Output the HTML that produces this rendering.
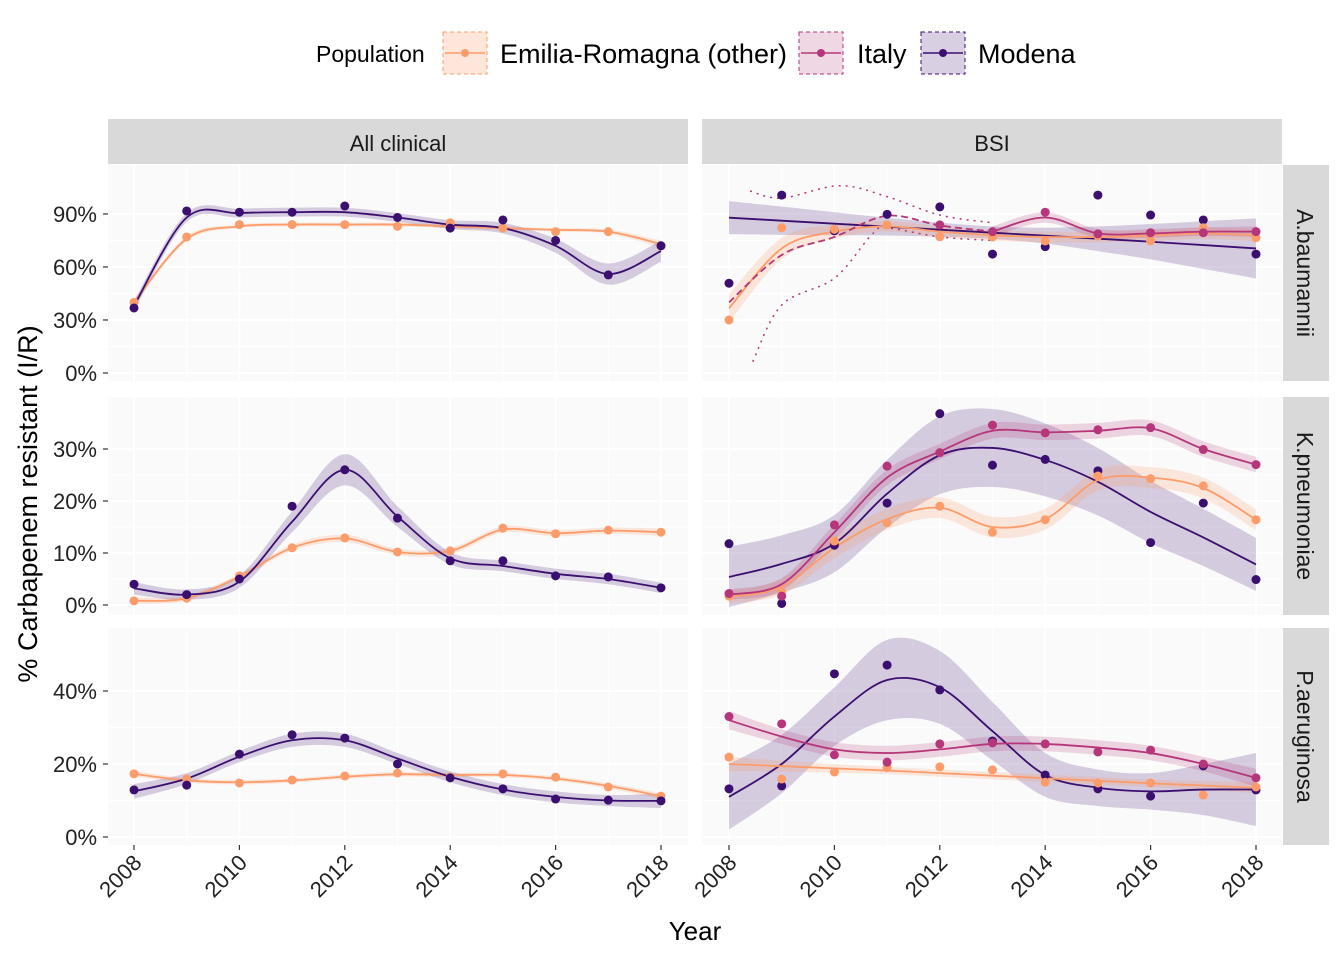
<!DOCTYPE html>
<html><head><meta charset="utf-8"><style>
body{margin:0;background:#fff;}
svg{display:block;font-family:"Liberation Sans",Arial,sans-serif;}
</style></head><body>
<svg id="chart" width="1344" height="960" viewBox="0 0 1344 960" xmlns="http://www.w3.org/2000/svg">
<g id="legend">
 <text x="316" y="62" font-size="23" fill="#000">Population</text>
 <g>
  <rect x="443" y="32" width="44" height="42" fill="rgba(252,156,106,0.25)" stroke="#FC9C6A" stroke-dasharray="4,3"/>
  <line x1="445" y1="53" x2="485" y2="53" stroke="#FC9C6A" stroke-width="1.5"/><circle cx="465" cy="53" r="4" fill="#FC9C6A"/>
  <text x="500" y="63" font-size="27" textLength="287" lengthAdjust="spacingAndGlyphs">Emilia-Romagna (other)</text></g>
 <g>
  <rect x="799" y="32" width="44" height="42" fill="rgba(181,54,122,0.2)" stroke="#B5367A" stroke-dasharray="4,3"/>
  <line x1="801" y1="53" x2="841" y2="53" stroke="#B5367A" stroke-width="1.5"/><circle cx="821" cy="53" r="4" fill="#B5367A"/>
  <text x="857" y="63" font-size="27">Italy</text></g>
 <g>
  <rect x="921" y="32" width="44" height="42" fill="rgba(59,15,112,0.2)" stroke="#3B0F70" stroke-dasharray="4,3"/>
  <line x1="923" y1="53" x2="963" y2="53" stroke="#3B0F70" stroke-width="1.5"/><circle cx="943" cy="53" r="4" fill="#3B0F70"/>
  <text x="978" y="63" font-size="27">Modena</text></g>
</g>
<text transform="translate(37,504) rotate(-90)" text-anchor="middle" font-size="27">% Carbapenem resistant (I/R)</text>
<text x="695" y="940" text-anchor="middle" font-size="26">Year</text>
<g id="plots"></g>
</svg>
<script>
const years=[2008,2009,2010,2011,2012,2013,2014,2015,2016,2017,2018];
const xTickLabels=["2008","2010","2012","2014","2016","2018"];
const row1Ticks=[0,30,60,90], row2Ticks=[0,10,20,30], row3Ticks=[0,20,40];
// A.baumannii - All clinical
const abAllModPts=[36.8,91.7,91,91,94.5,88,82,86.6,75,55.5,72];
const abAllModFit=[38,88,90.5,91,91,88,84,82,72,56,69];
const abAllModHw=[3,2.5,2.5,2.5,2.5,2.5,2.5,3,4,6,6];
const abAllErPts=[40,77,84,84,84,83,85,82,80,80,72];
const abAllErFit=[40,76,83,84,84,84,83,82,81,80,73];
const abAllErHw=[1.5,1.5,1,1,1,1,1,1,1,1.2,2];
// A.baumannii - BSI
const abBsiModPts=[50.8,100.7,80.5,89.8,94,67.3,71.5,100.7,89.4,86.6,67.3];
const abBsiModFit=[87.9,86.2,84.5,82.8,81.1,79.4,77.7,76,74.3,72.4,70.5];
const abBsiModHw=[9.4,8,6.5,5,4,3.5,4.5,7,10,13.5,17];
const abBsiErPts=[30,82.2,81.3,83.8,77.1,77,74.7,77.5,74.7,82.2,76.6];
const abBsiErFit=[36.6,70.5,80,83,80,78,77,77,77.7,79,78];
const abBsiErHw=[8,6,4,3,3,3,3,3,3,3,3.5];
const abBsiItPts=[null,null,null,null,83.8,80,91,78.7,79.4,79.4,80];
const abBsiItFit=[40,66.8,77,89,83.5,80,88,79,79,80,80];
const abBsiItHw=[3,3,3,3,3,3,3,2.5,2.5,2.5,3];
const abBsiItUpX=[2008.4,2009,2010.1,2011,2012,2013], abBsiItUpY=[103,99,106,99.8,89.4,85];
const abBsiItLoX=[2008.45,2009,2010,2010.7,2011,2012,2013], abBsiItLoY=[6.4,38.5,53.6,78,82,77,75];
// K.pneumoniae
const kpAllModPts=[4,2,5,19,26,16.7,8.5,8.5,5.6,5.4,3.3];
const kpAllModFit=[3.2,2,4.5,16,26,17,9,7.5,6,5,3.3];
const kpAllModHw=[1.2,1,1.2,2,3,2,1.2,1,1,1,1];
const kpAllErPts=[0.8,1.3,5.6,11,12.9,10.2,10.4,14.8,13.7,14.4,14];
const kpAllErFit=[0.8,1.3,5.5,11,12.8,10.2,10.4,14.5,13.8,14.3,14];
const kpAllErHw=[0.6,0.5,0.5,0.6,0.7,0.6,0.6,0.6,0.6,0.6,0.7];
const kpBsiModPts=[11.8,0.3,11.5,19.6,36.8,26.9,28,25.8,12,19.6,4.9];
const kpBsiModFit=[5.4,7.9,11.8,21.4,28.8,30.2,27.9,23.7,17.9,13,7.8];
const kpBsiModHw=[5.8,5.5,5.5,6.5,7.5,7.5,7,6.5,6,5.5,5.1];
const kpBsiItPts=[2.2,1.7,15.4,26.7,29.3,34.6,33.1,33.7,34.1,29.9,27];
const kpBsiItFit=[2,4,14,24.5,29.5,33.5,33.2,33.5,34,30,27];
const kpBsiItHw=[1,1.2,1.5,1.5,1.5,1.5,1.5,1.5,1.5,1.5,1.5];
const kpBsiErPts=[1.7,2.5,12.3,15.8,19,14,16.4,24.8,24.3,22.9,16.4];
const kpBsiErFit=[1.5,3.5,11,16.5,18.7,15,16.5,24,24.5,22.5,16.4];
const kpBsiErHw=[1.2,1.5,2,2,2,2,2,2,2,2,2];
// P.aeruginosa
const paAllModPts=[12.9,14.2,22.7,28,27.1,20,16.2,13.2,10.4,10.1,9.9];
const paAllModFit=[12.5,16,22,26.5,26.5,21.5,16.5,13,11,10,9.9];
const paAllModHw=[2,1.5,1.5,1.8,1.8,1.5,1.5,1.5,1.5,1.5,2];
const paAllErPts=[17.3,15.9,14.8,15.6,16.7,17.5,16.4,17.3,16.4,13.7,11.2];
const paAllErFit=[17.3,15.5,15,15.5,16.5,17.2,17,17,16,14,11.2];
const paAllErHw=[0.8,0.6,0.6,0.6,0.6,0.6,0.6,0.6,0.6,0.7,0.8];
const paBsiModPts=[13.2,14,44.7,47.1,40.3,26.3,17,13.2,11.2,19.5,12.9];
const paBsiModFit=[11,20,33,43,41,29,17,13.5,12.5,13,13];
const paBsiModHw=[9,8,8,11,10,8,6,5,5,7,10];
const paBsiItPts=[33,31,22.5,20.5,25.5,25.8,25.5,23.3,23.8,20,16.2];
const paBsiItFit=[32,27.5,24,23,24,25.5,25.5,24.5,23,20,16.2];
const paBsiItHw=[2.5,2,2,2,2,2,2,2,2,2,2.5];
const paBsiErPts=[21.9,15.9,17.8,19,19.2,18.4,15,14.8,14.8,11.5,13.7];
const paBsiErFit=[20,19.4,18.8,18.2,17.5,16.8,16.1,15.4,14.7,14.1,13.5];
const paBsiErHw=[2,1.5,1.2,1,1,1,1,1,1,1.2,1.5];

const COL={er:"#FC9C6A",it:"#B5367A",mod:"#3B0F70"};
const FILL={er:"rgba(252,156,106,0.22)",it:"rgba(181,54,122,0.2)",mod:"rgba(59,15,112,0.2)"};
const NS="http://www.w3.org/2000/svg";
const root=document.getElementById('plots');
function mk(tag,attrs,parent){const e=document.createElementNS(NS,tag);for(const k in attrs)e.setAttribute(k,attrs[k]);(parent||root).appendChild(e);return e;}
const cols=[{x0:108,x1:688,base:134},{x0:702,x1:1282,base:729}];
const rows=[{y0:165,y1:381,zero:373,k:1.767,ticks:row1Ticks,name:"A.baumannii"},
            {y0:397,y1:615,zero:605,k:5.2,ticks:row2Ticks,name:"K.pneumoniae"},
            {y0:628,y1:845,zero:837,k:3.65,ticks:row3Ticks,name:"P.aeruginosa"}];
const XK=52.7;
function path(pts){
  let d="M"+pts[0][0]+","+pts[0][1];
  for(let i=0;i<pts.length-1;i++){
    const p0=pts[Math.max(0,i-1)],p1=pts[i],p2=pts[i+1],p3=pts[Math.min(pts.length-1,i+2)];
    const c1=[p1[0]+(p2[0]-p0[0])/6,p1[1]+(p2[1]-p0[1])/6],c2=[p2[0]-(p3[0]-p1[0])/6,p2[1]-(p3[1]-p1[1])/6];
    d+=" C"+c1+" "+c2+" "+p2;
  }
  return d;
}
function panel(ri,ci,series,extra){
  const r=rows[ri],c=cols[ci];
  const sx=y=>c.base+(y-2008)*XK, sy=v=>r.zero-v*r.k;
  const g=mk('g',{});
  
  
  const cid='clip'+ri+ci;
  const cp=mk('clipPath',{id:cid},g);mk('rect',{x:c.x0,y:r.y0,width:c.x1-c.x0,height:r.y1-r.y0},cp);
  const bg=mk('rect',{x:c.x0,y:r.y0,width:c.x1-c.x0,height:r.y1-r.y0,fill:"#FAFAFA"},g);
  
  for(let i=0;i<r.ticks.length;i++){
    mk('line',{x1:c.x0,x2:c.x1,y1:sy(r.ticks[i]),y2:sy(r.ticks[i]),stroke:"#fff","stroke-width":2},g);
    if(i<r.ticks.length-1){const m=(r.ticks[i]+r.ticks[i+1])/2;mk('line',{x1:c.x0,x2:c.x1,y1:sy(m),y2:sy(m),stroke:"#fff","stroke-width":1},g);}
  }
  years.forEach((y,i)=>mk('line',{x1:sx(y),x2:sx(y),y1:r.y0,y2:r.y1,stroke:"#fff","stroke-width":i%2?1:2},g));
  const pg=mk('g',{'clip-path':'url(#'+cid+')'},g);
  series.forEach(s=>{
    const from=s.from||0, idx=years.map((y,i)=>i).filter(i=>i>=from);
    const up=idx.map(i=>[sx(years[i]),sy(s.fit[i]+s.hw[i])]), lo=idx.map(i=>[sx(years[i]),sy(s.fit[i]-s.hw[i])]).reverse();
    const rb=mk('path',{d:path(up)+" L"+lo[0]+path(lo).slice(1).replace(/^[^C]*/,'')+"Z",fill:FILL[s.k]},pg);
    
  });
  if(extra)extra(pg,sx,sy);
  series.forEach(s=>{
    const pts=years.map((y,i)=>[sx(y),sy(s.fit[i])]);
    if(s.dashTo!==undefined){
      const a=mk('path',{d:path(pts.slice(0,s.dashTo+1)),fill:"none",stroke:COL[s.k],"stroke-width":1.8,"stroke-dasharray":"7,4"},pg);
      
      const b=mk('path',{d:path(pts.slice(s.dashTo)),fill:"none",stroke:COL[s.k],"stroke-width":1.8},pg);
      
    } else {
      const l=mk('path',{d:path(pts),fill:"none",stroke:COL[s.k],"stroke-width":1.8},pg);
      
    }
  });
  series.forEach(s=>{
    s.pts.forEach((v,i)=>{if(v===null)return;
      const p=mk('circle',{cx:sx(years[i]),cy:sy(v),r:4.5,fill:COL[s.k]},pg);
      });
  });
  if(ci===0){
    r.ticks.forEach(t=>{
      mk('line',{x1:c.x0-5,x2:c.x0,y1:sy(t),y2:sy(t),stroke:"#333","stroke-width":1.2});
      const tl=mk('text',{x:c.x0-11,y:sy(t)+8,"text-anchor":"end","font-size":22,fill:"#222"});
      tl.textContent=t+"%";
    });
  }
  if(ri===2){
    xTickLabels.forEach(lb=>{
      const x=sx(+lb);
      mk('line',{x1:x,x2:x,y1:r.y1,y2:r.y1+5,stroke:"#333","stroke-width":1.2});
      const tl=mk('text',{transform:"translate("+(x+9)+","+(r.y1+19)+") rotate(-45)","text-anchor":"end","font-size":22,fill:"#222"});
      tl.textContent=lb;
    });
  }
  if(ri===0){
    const st=mk('rect',{x:c.x0,y:119,width:c.x1-c.x0,height:45,fill:"#D9D9D9"});
    
    const tx=mk('text',{x:(c.x0+c.x1)/2,y:151,"text-anchor":"middle","font-size":22,fill:"#1A1A1A"});
    tx.textContent=ci?"BSI":"All clinical";
  }
  if(ci===1){
    const st=mk('rect',{x:1283,y:r.y0,width:46,height:r.y1-r.y0,fill:"#D9D9D9"});
    
    const tx=mk('text',{transform:"translate(1297,"+((r.y0+r.y1)/2)+") rotate(90)","text-anchor":"middle","font-size":23,fill:"#1A1A1A"});
    tx.textContent=r.name;
  }
}
panel(0,0,[{k:'er',pts:abAllErPts,fit:abAllErFit,hw:abAllErHw},{k:'mod',pts:abAllModPts,fit:abAllModFit,hw:abAllModHw}]);
panel(0,1,[{k:'mod',pts:abBsiModPts,fit:abBsiModFit,hw:abBsiModHw},{k:'er',pts:abBsiErPts,fit:abBsiErFit,hw:abBsiErHw},{k:'it',pts:abBsiItPts,fit:abBsiItFit,hw:abBsiItHw,from:5,dashTo:5}],
 (pg,sx,sy)=>{
  const u=abBsiItUpX.map((x,i)=>[sx(x),sy(abBsiItUpY[i])]), l=abBsiItLoX.map((x,i)=>[sx(x),sy(abBsiItLoY[i])]);
  const a=mk('path',{d:path(u),fill:"none",stroke:COL.it,"stroke-width":1.5,"stroke-dasharray":"2,5"},pg);
  
  const b=mk('path',{d:path(l),fill:"none",stroke:COL.it,"stroke-width":1.5,"stroke-dasharray":"2,5"},pg);
  
 });
panel(1,0,[{k:'er',pts:kpAllErPts,fit:kpAllErFit,hw:kpAllErHw},{k:'mod',pts:kpAllModPts,fit:kpAllModFit,hw:kpAllModHw}]);
panel(1,1,[{k:'mod',pts:kpBsiModPts,fit:kpBsiModFit,hw:kpBsiModHw},{k:'er',pts:kpBsiErPts,fit:kpBsiErFit,hw:kpBsiErHw},{k:'it',pts:kpBsiItPts,fit:kpBsiItFit,hw:kpBsiItHw}]);
panel(2,0,[{k:'er',pts:paAllErPts,fit:paAllErFit,hw:paAllErHw},{k:'mod',pts:paAllModPts,fit:paAllModFit,hw:paAllModHw}]);
panel(2,1,[{k:'mod',pts:paBsiModPts,fit:paBsiModFit,hw:paBsiModHw},{k:'er',pts:paBsiErPts,fit:paBsiErFit,hw:paBsiErHw},{k:'it',pts:paBsiItPts,fit:paBsiItFit,hw:paBsiItHw}]);
</script>
</body></html>
